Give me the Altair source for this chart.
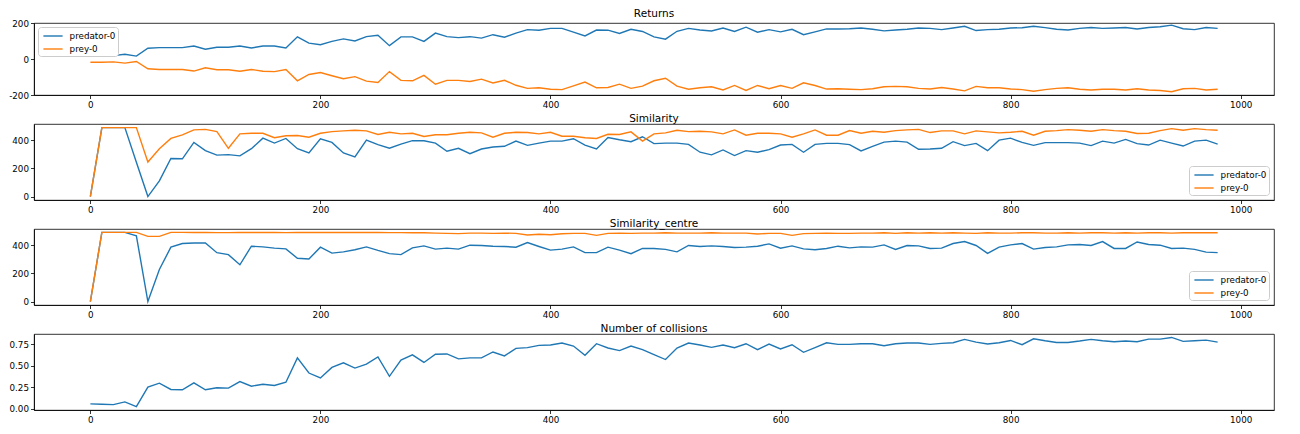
import altair as alt
import pandas as pd

steps = list(range(0, 990, 10))

returns_predator = [21, 20, 19, 26, 16, 60, 63, 63, 63, 72, 54, 65, 65, 72, 61, 72, 72, 61, 123, 88,
                    79, 98, 112, 100, 124, 132, 74, 123, 123, 98, 144, 124,
                    119, 124, 116, 135, 121, 144, 163, 160, 170, 170, 149, 128, 161, 160, 142, 165, 153, 123,
                    110, 154, 170, 161, 156, 172, 153, 177, 149, 163, 151, 165, 135, 151, 167, 167, 168, 172,
                    165, 156, 161, 165, 172, 170, 163, 172, 182, 158, 163, 165, 172, 174, 182, 174, 165, 161,
                    170, 175, 170, 172, 175, 167, 175, 179, 188, 168, 163, 175, 170]
returns_prey = [-18, -18, -16, -23, -14, -54, -58, -58, -58, -67, -49, -60, -60, -68, -58, -68, -70, -58, -121, -86,
                -75, -93, -110, -98, -123, -130, -70, -119, -121, -91, -140, -119,
                -119, -125, -112, -133, -118, -146, -163, -160, -168, -170, -149, -128, -160, -158, -140, -163, -151, -121,
                -107, -151, -168, -160, -154, -172, -147, -175, -147, -165, -147, -163, -132, -147, -167, -165, -168, -170,
                -165, -154, -152, -154, -163, -167, -158, -167, -177, -152, -160, -160, -167, -170, -179, -170, -163, -160,
                -168, -172, -168, -168, -172, -165, -172, -175, -182, -165, -163, -172, -168]

similarity_predator = [0, 491, 491, 491, 245, 0, 112, 271, 269, 386, 327, 295, 299, 290, 341, 416, 381, 414, 341, 311,
                       412, 386, 311, 283, 402, 370, 344, 374, 398, 398, 381, 323,
                       344, 306, 339, 353, 358, 395, 365, 381, 395, 395, 412, 367, 339, 421, 405, 391, 426, 377,
                       381, 381, 372, 316, 297, 332, 292, 327, 316, 334, 367, 372, 316, 372, 379, 379, 370, 325,
                       358, 388, 395, 388, 337, 339, 344, 391, 363, 379, 327, 402, 416, 386, 365, 384, 384, 384,
                       381, 363, 395, 381, 407, 377, 367, 402, 381, 360, 395, 402, 374]
similarity_prey = [0, 491, 491, 491, 491, 246, 341, 414, 440, 475, 479, 463, 344, 447, 451, 451, 419, 433, 435, 423,
                   451, 463, 468, 472, 468, 442, 458, 447, 451, 428, 440, 440,
                   451, 458, 454, 423, 451, 458, 456, 447, 458, 430, 430, 419, 414, 444, 442, 461, 395, 447,
                   454, 472, 463, 465, 461, 447, 475, 437, 451, 451, 447, 423, 447, 475, 437, 437, 470, 451,
                   465, 458, 470, 475, 479, 456, 468, 468, 447, 468, 461, 454, 458, 465, 437, 465, 470, 477,
                   472, 465, 477, 470, 465, 449, 451, 470, 484, 472, 484, 477, 472]

centre_predator = [0, 491, 491, 491, 467, 0, 228, 386, 412, 416, 416, 347, 333, 261, 393, 388, 379, 374, 307, 302,
                   386, 344, 353, 368, 388, 363, 340, 333, 381, 395, 372, 379,
                   372, 400, 398, 393, 391, 386, 419, 391, 365, 372, 388, 347, 347, 386, 365, 340, 377, 377,
                   370, 353, 398, 391, 395, 391, 384, 386, 393, 409, 379, 395, 374, 368, 377, 393, 381, 388,
                   386, 402, 370, 398, 395, 377, 379, 412, 426, 398, 342, 386, 402, 412, 372, 384, 388, 402,
                   405, 398, 426, 377, 377, 423, 405, 400, 377, 379, 370, 351, 347]
centre_prey = [0, 491, 491, 491, 491, 463, 463, 491, 491, 490, 490, 489, 489, 490, 490, 490, 490, 489, 490, 490,
               490, 490, 490, 490, 490, 490, 489, 489, 488, 488, 486, 484,
               482, 486, 486, 484, 486, 484, 472, 478, 474, 481, 484, 484, 470, 484, 486, 484, 486, 486,
               488, 486, 486, 486, 488, 486, 486, 486, 480, 484, 484, 470, 482, 484, 486, 484, 484, 486,
               486, 488, 484, 488, 486, 488, 486, 488, 486, 484, 488, 486, 486, 488, 488, 486, 486, 488,
               486, 488, 488, 486, 488, 486, 488, 488, 486, 488, 488, 488, 488]

collisions_predator = [0.054, 0.050, 0.046, 0.077, 0.023, 0.249, 0.295, 0.222, 0.218, 0.298, 0.218, 0.241, 0.237,
                       0.314, 0.260, 0.283, 0.268, 0.306, 0.589, 0.413, 0.356, 0.478, 0.532, 0.471, 0.517, 0.601,
                       0.375, 0.563, 0.624, 0.536, 0.631, 0.635,
                       0.578, 0.589, 0.589, 0.658, 0.612, 0.700, 0.708, 0.735, 0.739, 0.762, 0.727, 0.620, 0.754,
                       0.704, 0.674, 0.727, 0.685, 0.628, 0.570, 0.704, 0.762, 0.739, 0.712, 0.739, 0.708, 0.754,
                       0.685, 0.750, 0.693, 0.742, 0.654, 0.708, 0.765, 0.746, 0.746, 0.754,
                       0.754, 0.731, 0.754, 0.762, 0.762, 0.746, 0.758, 0.765, 0.804, 0.773, 0.750, 0.765, 0.792,
                       0.742, 0.811, 0.788, 0.769, 0.769, 0.785, 0.804, 0.788, 0.777, 0.785, 0.777, 0.807, 0.807,
                       0.827, 0.781, 0.788, 0.796, 0.773]

agents = ["predator-0", "prey-0"]
colors = ["#1f77b4", "#ff7f0e"]
x_ticks = [0, 200, 400, 600, 800, 1000]


def long_df(series_list):
    rows = []
    for name, vals in series_list:
        for s, v in zip(steps, vals):
            rows.append({"step": s, "value": v, "agent": name})
    return pd.DataFrame(rows)


x_enc = alt.X("step:Q", scale=alt.Scale(domain=[-49, 1029], nice=False, zero=False),
              axis=alt.Axis(values=x_ticks, title=None, format="d"))
color_scale = alt.Scale(domain=agents, range=colors)


def make_legend(orient, offset):
    return alt.Legend(title=None, orient=orient, offset=offset, fillColor="white", strokeColor="#cccccc",
                      padding=2, cornerRadius=3, symbolType="M-0.6,0H2.6", symbolSize=144,
                      symbolStrokeWidth=1.4, labelFontSize=8.75, labelFont="DejaVu Sans",
                      labelColor="black", labelOffset=15.6, rowPadding=1)


def panel(df, title, ydomain, yticks, legend, label_expr, height=76):
    return alt.Chart(df, title=alt.Title(title)).mark_line(strokeWidth=1.4).encode(
        x=x_enc,
        y=alt.Y("value:Q", scale=alt.Scale(domain=ydomain, nice=False, zero=False),
                axis=alt.Axis(values=yticks, title=None, labelExpr=label_expr)),
        color=alt.Color("agent:N", scale=color_scale, legend=legend),
    ).properties(width=1240, height=height)


int_expr = "datum.value < 0 ? '-' + format(-datum.value, 'd') : format(datum.value, 'd')"
dec_expr = "format(datum.value, '.2f')"

p1 = panel(long_df([("predator-0", returns_predator), ("prey-0", returns_prey)]),
           "Returns", [-200, 200], [-200, 0, 200], make_legend("top-left", 4), int_expr, height=72)
p2 = panel(long_df([("predator-0", similarity_predator), ("prey-0", similarity_prey)]),
           "Similarity", [-24.5, 517], [0, 200, 400], make_legend("bottom-right", 5), int_expr)
p3 = panel(long_df([("predator-0", centre_predator), ("prey-0", centre_prey)]),
           "Similarity_centre", [-24.5, 515], [0, 200, 400], make_legend("bottom-right", 5), int_expr)
p4 = panel(long_df([("predator-0", collisions_predator)]),
           "Number of collisions", [-0.017, 0.867], [0, 0.25, 0.5, 0.75], None, dec_expr)

chart = alt.vconcat(p1, p2, p3, p4, spacing=3).resolve_scale(color="independent").resolve_legend(
    color="independent"
).properties(padding=0).configure_view(
    stroke="black", strokeWidth=0.8
).configure_axis(
    labelFont="DejaVu Sans", labelFontSize=8.75, labelColor="black", tickColor="black",
    tickSize=3.5, tickWidth=0.8, domainColor="black", domainWidth=0.8, grid=False, labelPadding=2
).configure_title(
    font="DejaVu Sans", fontSize=10.5, fontWeight="normal", color="black", offset=-4.5, dy=-4
)

chart.save("out.html", embed_options={"renderer": "svg", "actions": False})
